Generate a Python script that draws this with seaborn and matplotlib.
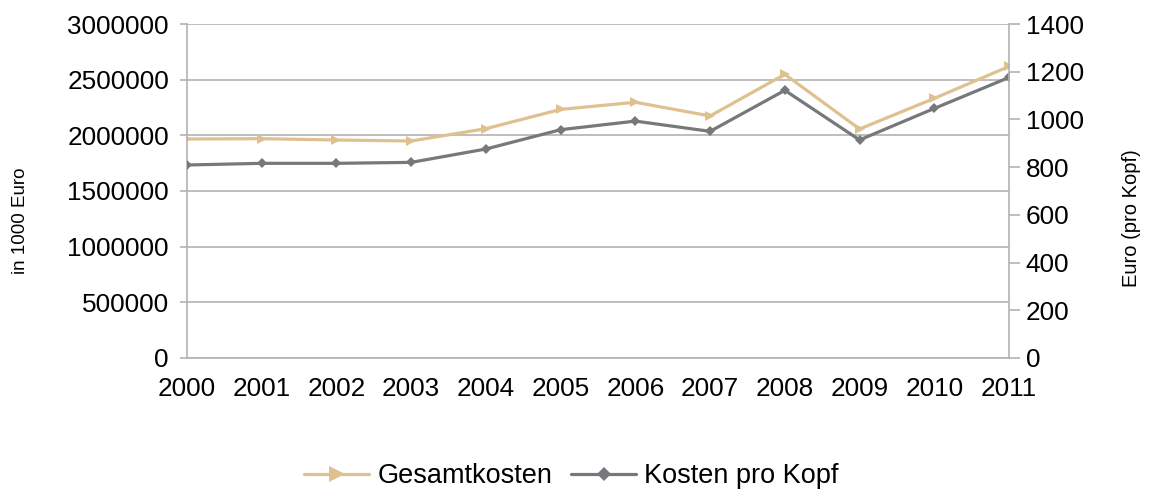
import numpy as np
import pandas as pd
import matplotlib
matplotlib.use("Agg")
import matplotlib.pyplot as plt
import seaborn as sns
from matplotlib.lines import Line2D

# Data
years = [2000, 2001, 2002, 2003, 2004, 2005, 2006, 2007, 2008, 2009, 2010, 2011]
gesamtkosten = [1967000, 1970000, 1958000, 1949000, 2060000, 2233000,
                2297000, 2174000, 2548000, 2057000, 2332000, 2619000]
kosten_pro_kopf = [809, 816, 816, 820, 876, 957, 993, 950, 1122, 914, 1046, 1176]

left_ticks = [0, 500000, 1000000, 1500000, 2000000, 2500000, 3000000]
right_ticks = [0, 200, 400, 600, 800, 1000, 1200, 1400]

# Styling
sns.set_theme(style="white")
plt.rcParams['font.family'] = ['Liberation Sans', 'DejaVu Sans']
plt.rcParams['text.color'] = 'black'
plt.rcParams['axes.labelcolor'] = 'black'

tan = '#DEC18F'
grey = '#77787B'
axis_grey = '#B3B3B3'
fs = 18.8

df = pd.DataFrame({'Jahr': years, 'Gesamtkosten': gesamtkosten,
                   'Kosten pro Kopf': kosten_pro_kopf})

fig = plt.figure(figsize=(11.5, 4.91), dpi=100)
ax = fig.add_axes([0.1626, 0.2709, 0.8774 - 0.1626, 0.9511 - 0.2709])
ax2 = ax.twinx()

sns.lineplot(data=df, x='Jahr', y='Gesamtkosten', ax=ax, color=tan,
             linewidth=2.3, marker='>', markersize=7, markeredgewidth=0)
sns.lineplot(data=df, x='Jahr', y='Kosten pro Kopf', ax=ax2, color=grey,
             linewidth=2.3, marker='D', markersize=5, markeredgewidth=0)

ax.set_xlim(2000, 2011)
ax.set_ylim(0, 3000000)
ax2.set_ylim(0, 1400)
ax.set_xticks(years)
ax.set_xticklabels([str(y) for y in years], fontsize=fs)
ax.set_yticks(left_ticks)
ax.set_yticklabels([str(v) for v in left_ticks], fontsize=fs)
ax2.set_yticks(right_ticks)
ax2.set_yticklabels([str(v) for v in right_ticks], fontsize=fs)

ax.yaxis.grid(True, color=axis_grey, linewidth=1.2)
ax.xaxis.grid(False)
ax.set_axisbelow(True)

for a in (ax, ax2):
    for s in a.spines.values():
        s.set_visible(False)
ax.spines['left'].set_visible(True)
ax.spines['bottom'].set_visible(True)
ax2.spines['right'].set_visible(True)
for s in (ax.spines['left'], ax.spines['bottom'], ax2.spines['right']):
    s.set_color(axis_grey)
    s.set_linewidth(1.2)

ax.tick_params(axis='y', length=5, width=1.2, color=axis_grey, pad=8, labelcolor='black')
ax.tick_params(axis='x', length=8, width=1.2, color=axis_grey, pad=6, labelcolor='black')
ax2.tick_params(axis='y', length=8, width=1.2, color=axis_grey, pad=4, labelcolor='black')

ax.set_xlabel('')
ax.set_ylabel('in 1000 Euro', fontsize=13.5, color='black')
ax2.set_ylabel('Euro (pro Kopf)', fontsize=14.5, color='black')
ax.yaxis.set_label_coords(-0.192, 0.41)
ax2.yaxis.set_label_coords(1.138, 0.42)

handles = [
    Line2D([], [], color=tan, linewidth=2.3, marker='>', markersize=11, markeredgewidth=0),
    Line2D([], [], color=grey, linewidth=2.3, marker='D', markersize=7, markeredgewidth=0),
]
fig.legend(handles, ['Gesamtkosten', 'Kosten pro Kopf'], loc='center',
           bbox_to_anchor=(0.497, 0.03), ncol=2, frameon=False, fontsize=19.5,
           handlelength=2.4, handletextpad=0.3, columnspacing=0.7)

fig.savefig('out.png', dpi=100)
